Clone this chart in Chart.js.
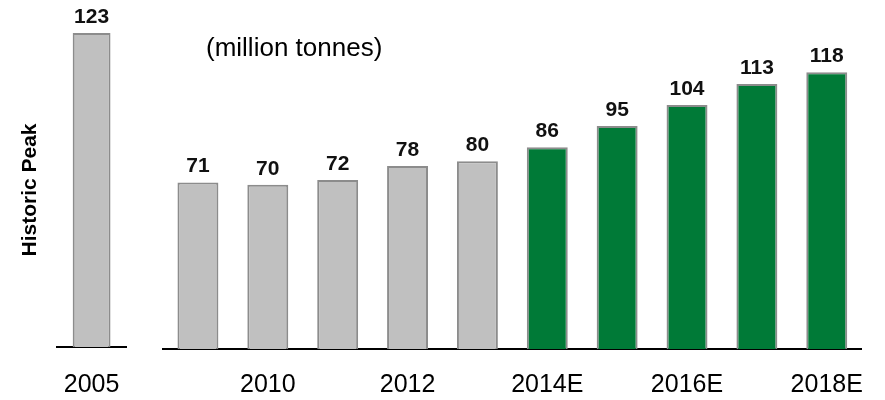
<!DOCTYPE html>
<html>
<head>
<meta charset="utf-8">
<script src="https://cdn.jsdelivr.net/npm/chart.js@4"></script>
<style>
  body { margin: 0; background: #fff; }
  #left { position: absolute; left: 0; top: 0; width: 140px; height: 400px; }
  #right { position: absolute; left: 140px; top: 0; width: 745px; height: 400px; }
</style>
</head>
<body>
<div id="left"><canvas id="peakChart"></canvas></div>
<div id="right"><canvas id="mainChart"></canvas></div>
<script>
/* DATA */
const peakYears = ["2005"];
const peakValues = [123];
const years = ["2009", "2010", "2011", "2012", "2013", "2014E", "2015E", "2016E", "2017E", "2018E"];
const values = [71, 70, 72, 78, 80, 86, 95, 104, 113, 118];
const estimated = [false, false, false, false, false, true, true, true, true, true];

const FONT = "'Liberation Sans', Arial, sans-serif";
const GREY = "#c0c0c0";
const GREEN = "#007a37";
const EDGE = "#8c8c8c";

Chart.defaults.font.family = FONT;
Chart.defaults.color = "#000";

/* value labels above bars */
const valueLabels = {
  id: "valueLabels",
  afterDatasetsDraw(chart) {
    const ctx = chart.ctx;
    const meta = chart.getDatasetMeta(0);
    const data = chart.data.datasets[0].data;
    ctx.save();
    ctx.font = "bold 21px " + FONT;
    ctx.fillStyle = "#111";
    ctx.textAlign = "center";
    ctx.textBaseline = "alphabetic";
    meta.data.forEach((bar, i) => {
      ctx.fillText(data[i], bar.x, bar.y - 10);
    });
    ctx.restore();
  }
};

/* unit note */
const unitNote = {
  id: "unitNote",
  afterDraw(chart) {
    const ctx = chart.ctx;
    ctx.save();
    ctx.font = "26px " + FONT;
    ctx.fillStyle = "#000";
    ctx.textAlign = "left";
    ctx.textBaseline = "alphabetic";
    ctx.fillText("(million tonnes)", 66, 56);
    ctx.restore();
  }
};

/* LEFT: historic peak */
new Chart(document.getElementById("peakChart"), {
  type: "bar",
  data: {
    labels: peakYears,
    datasets: [{
      data: peakValues,
      backgroundColor: GREY,
      borderColor: EDGE,
      borderWidth: 2,
      barPercentage: 0.55,
      categoryPercentage: 1
    }]
  },
  options: {
    responsive: true,
    maintainAspectRatio: false,
    animation: false,
    layout: { padding: { left: 18, right: 14, top: 33, bottom: -23 } },
    plugins: { legend: { display: false }, tooltip: { enabled: false } },
    scales: {
      x: {
        grid: { display: false, drawTicks: false },
        border: { display: true, color: "#000", width: 2 },
        ticks: { font: { size: 25, lineHeight: "76px" }, padding: 0, maxRotation: 0, color: "#000" }
      },
      y: {
        min: 0,
        max: 123,
        grid: { display: false, drawTicks: false },
        border: { display: false },
        ticks: { display: false },
        title: {
          display: true,
          text: "Historic Peak",
          font: { size: 21, weight: "bold" },
          color: "#000",
          padding: { top: 0, bottom: 14 }
        }
      }
    }
  },
  plugins: [valueLabels]
});

/* RIGHT: 2009-2018E */
new Chart(document.getElementById("mainChart"), {
  type: "bar",
  data: {
    labels: years,
    datasets: [{
      data: values,
      backgroundColor: estimated.map(e => e ? GREEN : GREY),
      borderColor: EDGE,
      borderWidth: 2,
      barPercentage: 0.586,
      categoryPercentage: 1
    }]
  },
  options: {
    responsive: true,
    maintainAspectRatio: false,
    animation: false,
    layout: { padding: { left: 23, right: 22, top: 44, bottom: -21 } },
    plugins: { legend: { display: false }, tooltip: { enabled: false } },
    scales: {
      x: {
        grid: { display: false, drawTicks: false },
        border: { display: true, color: "#000", width: 2 },
        ticks: {
          font: { size: 25 },
          padding: 21,
          maxRotation: 0,
          autoSkip: false,
          color: "#000",
          callback: (v, i) => i % 2 === 1 ? years[i] : ""
        }
      },
      y: {
        display: false,
        min: 0,
        max: 130
      }
    }
  },
  plugins: [valueLabels, unitNote]
});
</script>
</body>
</html>
